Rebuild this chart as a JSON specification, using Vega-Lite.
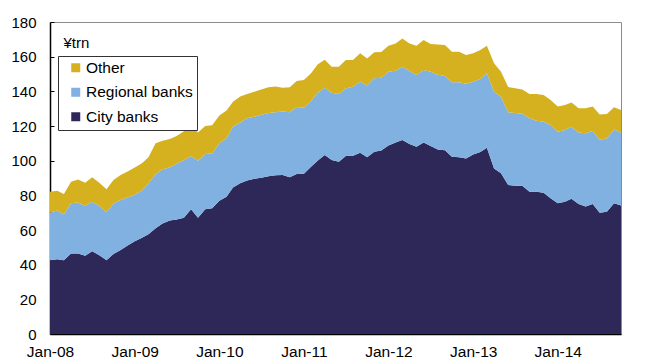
{
  "$schema": "https://vega.github.io/schema/vega-lite/v6.json",
  "width": 571,
  "height": 312,
  "autosize": {"type": "none"},
  "padding": {"left": 50, "top": 22, "right": 35, "bottom": 30},
  "background": "white",
  "config": {
    "font": "Liberation Sans",
    "view": {"stroke": "#8c8c8c", "strokeWidth": 1},
    "axis": {"domainColor": "#000000", "tickColor": "#000000", "labelColor": "#000000", "labelFont": "Liberation Sans", "grid": false}
  },
  "data": {
    "values": [
      {"d": "2008-01-01", "City banks": 42.5, "Regional banks": 27.5, "Other": 12.1},
      {"d": "2008-02-01", "City banks": 43.1, "Regional banks": 28.1, "Other": 11.5},
      {"d": "2008-03-01", "City banks": 42.5, "Regional banks": 26.5, "Other": 11.8},
      {"d": "2008-04-01", "City banks": 46.5, "Regional banks": 28.9, "Other": 12.5},
      {"d": "2008-05-01", "City banks": 46.5, "Regional banks": 29.3, "Other": 13.4},
      {"d": "2008-06-01", "City banks": 45.2, "Regional banks": 28.6, "Other": 13.5},
      {"d": "2008-07-01", "City banks": 47.7, "Regional banks": 28.6, "Other": 14.1},
      {"d": "2008-08-01", "City banks": 45.5, "Regional banks": 28.3, "Other": 13.5},
      {"d": "2008-09-01", "City banks": 42.5, "Regional banks": 27.7, "Other": 13.3},
      {"d": "2008-10-01", "City banks": 46.2, "Regional banks": 29.2, "Other": 13.4},
      {"d": "2008-11-01", "City banks": 48.5, "Regional banks": 28.8, "Other": 14.4},
      {"d": "2008-12-01", "City banks": 51.0, "Regional banks": 27.8, "Other": 14.9},
      {"d": "2009-01-01", "City banks": 53.5, "Regional banks": 27.0, "Other": 15.5},
      {"d": "2009-02-01", "City banks": 55.5, "Regional banks": 27.2, "Other": 15.8},
      {"d": "2009-03-01", "City banks": 57.5, "Regional banks": 29.5, "Other": 15.0},
      {"d": "2009-04-01", "City banks": 61.0, "Regional banks": 31.0, "Other": 18.0},
      {"d": "2009-05-01", "City banks": 63.8, "Regional banks": 31.2, "Other": 16.5},
      {"d": "2009-06-01", "City banks": 65.5, "Regional banks": 30.5, "Other": 16.5},
      {"d": "2009-07-01", "City banks": 66.1, "Regional banks": 32.2, "Other": 15.9},
      {"d": "2009-08-01", "City banks": 67.1, "Regional banks": 33.2, "Other": 16.7},
      {"d": "2009-09-01", "City banks": 71.9, "Regional banks": 30.8, "Other": 17.3},
      {"d": "2009-10-01", "City banks": 67.0, "Regional banks": 33.0, "Other": 16.2},
      {"d": "2009-11-01", "City banks": 72.0, "Regional banks": 31.8, "Other": 16.2},
      {"d": "2009-12-01", "City banks": 72.5, "Regional banks": 31.7, "Other": 16.3},
      {"d": "2010-01-01", "City banks": 76.9, "Regional banks": 33.1, "Other": 16.0},
      {"d": "2010-02-01", "City banks": 79.2, "Regional banks": 33.8, "Other": 16.0},
      {"d": "2010-03-01", "City banks": 84.5, "Regional banks": 35.0, "Other": 14.5},
      {"d": "2010-04-01", "City banks": 87.0, "Regional banks": 35.0, "Other": 15.0},
      {"d": "2010-05-01", "City banks": 88.5, "Regional banks": 36.0, "Other": 14.0},
      {"d": "2010-06-01", "City banks": 89.5, "Regional banks": 35.9, "Other": 14.4},
      {"d": "2010-07-01", "City banks": 90.2, "Regional banks": 36.3, "Other": 14.5},
      {"d": "2010-08-01", "City banks": 91.0, "Regional banks": 36.5, "Other": 14.8},
      {"d": "2010-09-01", "City banks": 91.6, "Regional banks": 36.4, "Other": 14.8},
      {"d": "2010-10-01", "City banks": 91.7, "Regional banks": 36.6, "Other": 13.8},
      {"d": "2010-11-01", "City banks": 90.4, "Regional banks": 37.5, "Other": 14.4},
      {"d": "2010-12-01", "City banks": 92.3, "Regional banks": 38.7, "Other": 15.0},
      {"d": "2011-01-01", "City banks": 92.5, "Regional banks": 38.0, "Other": 16.0},
      {"d": "2011-02-01", "City banks": 96.5, "Regional banks": 38.0, "Other": 16.0},
      {"d": "2011-03-01", "City banks": 100.0, "Regional banks": 39.0, "Other": 16.5},
      {"d": "2011-04-01", "City banks": 103.3, "Regional banks": 38.7, "Other": 16.2},
      {"d": "2011-05-01", "City banks": 100.4, "Regional banks": 38.8, "Other": 15.0},
      {"d": "2011-06-01", "City banks": 99.4, "Regional banks": 39.1, "Other": 15.7},
      {"d": "2011-07-01", "City banks": 102.7, "Regional banks": 39.0, "Other": 16.4},
      {"d": "2011-08-01", "City banks": 102.9, "Regional banks": 39.8, "Other": 15.4},
      {"d": "2011-09-01", "City banks": 104.6, "Regional banks": 41.0, "Other": 16.3},
      {"d": "2011-10-01", "City banks": 101.9, "Regional banks": 41.4, "Other": 15.7},
      {"d": "2011-11-01", "City banks": 105.2, "Regional banks": 42.3, "Other": 15.0},
      {"d": "2011-12-01", "City banks": 105.8, "Regional banks": 42.1, "Other": 14.8},
      {"d": "2012-01-01", "City banks": 108.8, "Regional banks": 42.5, "Other": 15.0},
      {"d": "2012-02-01", "City banks": 110.5, "Regional banks": 41.4, "Other": 15.7},
      {"d": "2012-03-01", "City banks": 111.9, "Regional banks": 42.3, "Other": 16.3},
      {"d": "2012-04-01", "City banks": 109.6, "Regional banks": 42.1, "Other": 15.9},
      {"d": "2012-05-01", "City banks": 108.0, "Regional banks": 41.4, "Other": 16.9},
      {"d": "2012-06-01", "City banks": 110.5, "Regional banks": 41.8, "Other": 17.3},
      {"d": "2012-07-01", "City banks": 108.5, "Regional banks": 42.8, "Other": 16.0},
      {"d": "2012-08-01", "City banks": 106.5, "Regional banks": 43.0, "Other": 17.5},
      {"d": "2012-09-01", "City banks": 106.0, "Regional banks": 42.8, "Other": 17.9},
      {"d": "2012-10-01", "City banks": 102.2, "Regional banks": 43.0, "Other": 17.7},
      {"d": "2012-11-01", "City banks": 101.9, "Regional banks": 43.3, "Other": 17.7},
      {"d": "2012-12-01", "City banks": 101.3, "Regional banks": 43.1, "Other": 16.6},
      {"d": "2013-01-01", "City banks": 103.5, "Regional banks": 42.1, "Other": 16.4},
      {"d": "2013-02-01", "City banks": 105.0, "Regional banks": 42.1, "Other": 16.7},
      {"d": "2013-03-01", "City banks": 107.5, "Regional banks": 42.9, "Other": 15.9},
      {"d": "2013-04-01", "City banks": 95.5, "Regional banks": 44.3, "Other": 16.4},
      {"d": "2013-05-01", "City banks": 92.7, "Regional banks": 44.2, "Other": 14.4},
      {"d": "2013-06-01", "City banks": 86.0, "Regional banks": 42.0, "Other": 14.5},
      {"d": "2013-07-01", "City banks": 85.5, "Regional banks": 42.0, "Other": 14.3},
      {"d": "2013-08-01", "City banks": 85.5, "Regional banks": 41.5, "Other": 14.0},
      {"d": "2013-09-01", "City banks": 82.0, "Regional banks": 42.5, "Other": 14.0},
      {"d": "2013-10-01", "City banks": 82.0, "Regional banks": 41.1, "Other": 15.4},
      {"d": "2013-11-01", "City banks": 81.5, "Regional banks": 41.0, "Other": 15.4},
      {"d": "2013-12-01", "City banks": 78.3, "Regional banks": 42.3, "Other": 14.4},
      {"d": "2014-01-01", "City banks": 75.4, "Regional banks": 41.3, "Other": 14.5},
      {"d": "2014-02-01", "City banks": 76.3, "Regional banks": 41.4, "Other": 14.4},
      {"d": "2014-03-01", "City banks": 78.0, "Regional banks": 41.6, "Other": 13.9},
      {"d": "2014-04-01", "City banks": 75.0, "Regional banks": 41.2, "Other": 14.0},
      {"d": "2014-05-01", "City banks": 73.5, "Regional banks": 42.3, "Other": 14.4},
      {"d": "2014-06-01", "City banks": 75.0, "Regional banks": 42.1, "Other": 14.1},
      {"d": "2014-07-01", "City banks": 70.0, "Regional banks": 41.9, "Other": 14.8},
      {"d": "2014-08-01", "City banks": 70.6, "Regional banks": 42.3, "Other": 14.0},
      {"d": "2014-09-01", "City banks": 75.4, "Regional banks": 42.6, "Other": 12.8},
      {"d": "2014-10-01", "City banks": 74.2, "Regional banks": 42.0, "Other": 13.0}
    ]
  },
  "transform": [
    {"fold": ["City banks", "Regional banks", "Other"], "as": ["series", "value"]},
    {"lookup": "series", "from": {"data": {"values": [
      {"series": "City banks", "rank": 1},
      {"series": "Regional banks", "rank": 2},
      {"series": "Other", "rank": 3}
    ]}, "key": "series", "fields": ["rank"]}}
  ],
  "mark": {"type": "area", "interpolate": "linear", "strokeWidth": 0},
  "encoding": {
    "x": {
      "field": "d",
      "type": "temporal",
      "scale": {"type": "utc", "domain": [{"year": 2008, "month": 1, "date": 1, "utc": true}, {"year": 2014, "month": 10, "date": 1, "utc": true}]},
      "axis": {
        "title": null,
        "labelExpr": "utcFormat(datum.value, '%b-%y')",
        "values": [
          {"year": 2008, "month": 1, "date": 1, "utc": true},
          {"year": 2009, "month": 1, "date": 1, "utc": true},
          {"year": 2010, "month": 1, "date": 1, "utc": true},
          {"year": 2011, "month": 1, "date": 1, "utc": true},
          {"year": 2012, "month": 1, "date": 1, "utc": true},
          {"year": 2013, "month": 1, "date": 1, "utc": true},
          {"year": 2014, "month": 1, "date": 1, "utc": true}
        ],
        "ticks": false,
        "labelPadding": 10,
        "labelFontSize": 15.5,
        "labelFlush": false,
        "labelOverlap": false,
        "domainWidth": 1.5
      }
    },
    "y": {
      "field": "value",
      "type": "quantitative",
      "stack": "zero",
      "scale": {"domain": [0, 180], "nice": false},
      "axis": {
        "values": [0, 20, 40, 60, 80, 100, 120, 140, 160, 180],
        "title": "¥trn",
        "titleAngle": 0,
        "titleX": 13,
        "titleY": 20,
        "titleAlign": "left",
        "titleBaseline": "middle",
        "titleFontWeight": "normal",
        "titleFontSize": 15,
        "titleFont": "Liberation Sans",
        "titleColor": "#000000",
        "tickSize": -4,
        "labelPadding": 18,
        "labelFontSize": 15,
        "domainWidth": 1.5
      }
    },
    "color": {
      "field": "series",
      "type": "nominal",
      "scale": {"domain": ["Other", "Regional banks", "City banks"], "range": ["#D5B11F", "#80B1E0", "#2E2859"]},
      "legend": {
        "title": null,
        "orient": "none",
        "legendX": 8,
        "legendY": 34,
        "strokeColor": "#333333",
        "fillColor": "#ffffff",
        "padding": 4,
        "symbolType": "square",
        "symbolSize": 81,
        "symbolStrokeWidth": 0,
        "symbolOffset": 6,
        "labelOffset": 2.5,
        "labelFontSize": 15.5,
        "labelFont": "Liberation Sans",
        "labelColor": "#000000",
        "rowPadding": 7.5
      }
    },
    "order": {"field": "rank", "type": "quantitative", "sort": "ascending"}
  }
}
